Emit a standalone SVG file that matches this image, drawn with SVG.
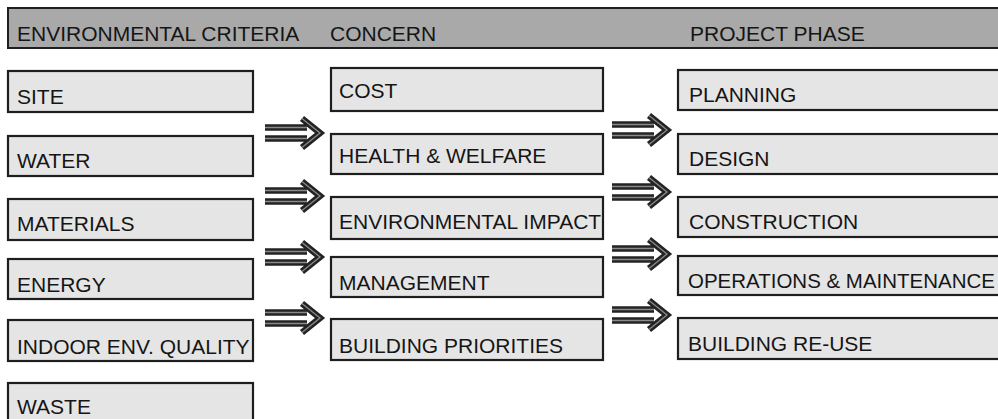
<svg xmlns="http://www.w3.org/2000/svg" xmlns:xlink="http://www.w3.org/1999/xlink" width="998" height="419" viewBox="0 0 998 419">
  <style>
    .hdr { fill: #a9a9a9; stroke: #1e1e1e; stroke-width: 2; }
    .box { fill: #e5e5e5; stroke: #1e1e1e; stroke-width: 2.2; }
    .lbl { font-family: "Liberation Sans", Arial, sans-serif; font-size: 21px; fill: #151515; }
    .arr-out { fill: none; stroke: #232323; stroke-width: 6.5; stroke-linejoin: miter; }
    .arr-in { fill: none; stroke: #8a8a8a; stroke-width: 1.3; stroke-linejoin: miter; }
  </style>
  <defs>
    <!-- double-shaft arrow, origin at shaft start, centred on y=0 -->
    <g id="dblArrow">
      <path class="arr-out" d="M2,-5.5 H44 M2,5.5 H44 M39,-14.5 L57,0 L39,14.5"/>
      <path class="arr-in" d="M2,-5.5 H44 M2,5.5 H44 M39,-14.5 L57,0 L39,14.5"/>
    </g>
  </defs>
  <rect width="998" height="419" fill="#ffffff"/>

  <!-- header band -->
  <g id="header">
    <rect class="hdr" x="8" y="8" width="1000" height="40"/>
    <text class="lbl" x="17" y="41">ENVIRONMENTAL CRITERIA</text>
    <text class="lbl" x="330" y="41">CONCERN</text>
    <text class="lbl" x="690" y="41">PROJECT PHASE</text>
  </g>

  <!-- environmental criteria -->
  <g id="criteria-site"><rect class="box" x="8" y="71" width="245" height="41"/><text class="lbl" x="17" y="104">SITE</text></g>
  <g id="criteria-water"><rect class="box" x="8" y="136" width="245" height="40"/><text class="lbl" x="17" y="168">WATER</text></g>
  <g id="criteria-materials"><rect class="box" x="8" y="199" width="245" height="41"/><text class="lbl" x="17" y="231">MATERIALS</text></g>
  <g id="criteria-energy"><rect class="box" x="8" y="259" width="245" height="40"/><text class="lbl" x="17" y="292">ENERGY</text></g>
  <g id="criteria-ieq"><rect class="box" x="8" y="320" width="245" height="41"/><text class="lbl" x="17" y="354">INDOOR ENV. QUALITY</text></g>
  <g id="criteria-waste"><rect class="box" x="8" y="383" width="245" height="41"/><text class="lbl" x="17" y="414">WASTE</text></g>

  <!-- concerns -->
  <g id="concern-cost"><rect class="box" x="331" y="68" width="272" height="43"/><text class="lbl" x="339" y="98">COST</text></g>
  <g id="concern-health"><rect class="box" x="331" y="134" width="272" height="40"/><text class="lbl" x="339" y="163">HEALTH &amp; WELFARE</text></g>
  <g id="concern-environment"><rect class="box" x="331" y="197" width="272" height="42"/><text class="lbl" x="339" y="229">ENVIRONMENTAL IMPACT</text></g>
  <g id="concern-management"><rect class="box" x="331" y="257" width="272" height="40"/><text class="lbl" x="339" y="290">MANAGEMENT</text></g>
  <g id="concern-priorities"><rect class="box" x="331" y="319" width="272" height="41"/><text class="lbl" x="339" y="353">BUILDING PRIORITIES</text></g>

  <!-- project phases -->
  <g id="phase-planning"><rect class="box" x="678" y="70" width="330" height="40"/><text class="lbl" x="689" y="102">PLANNING</text></g>
  <g id="phase-design"><rect class="box" x="678" y="134" width="330" height="40"/><text class="lbl" x="689" y="166">DESIGN</text></g>
  <g id="phase-construction"><rect class="box" x="678" y="197" width="330" height="40"/><text class="lbl" x="689" y="229">CONSTRUCTION</text></g>
  <g id="phase-operations"><rect class="box" x="678" y="256" width="330" height="39"/><text class="lbl" x="688" y="288" textLength="307" lengthAdjust="spacingAndGlyphs">OPERATIONS &amp; MAINTENANCE</text></g>
  <g id="phase-reuse"><rect class="box" x="678" y="318" width="330" height="41"/><text class="lbl" x="688" y="351">BUILDING RE-USE</text></g>

  <!-- connectors -->
  <g id="connectors">
    <use xlink:href="#dblArrow" x="263" y="133"/>
    <use xlink:href="#dblArrow" x="263" y="196"/>
    <use xlink:href="#dblArrow" x="263" y="257"/>
    <use xlink:href="#dblArrow" x="263" y="318"/>
    <use xlink:href="#dblArrow" x="610" y="130"/>
    <use xlink:href="#dblArrow" x="610" y="192"/>
    <use xlink:href="#dblArrow" x="610" y="254"/>
    <use xlink:href="#dblArrow" x="610" y="315"/>
  </g>
</svg>
